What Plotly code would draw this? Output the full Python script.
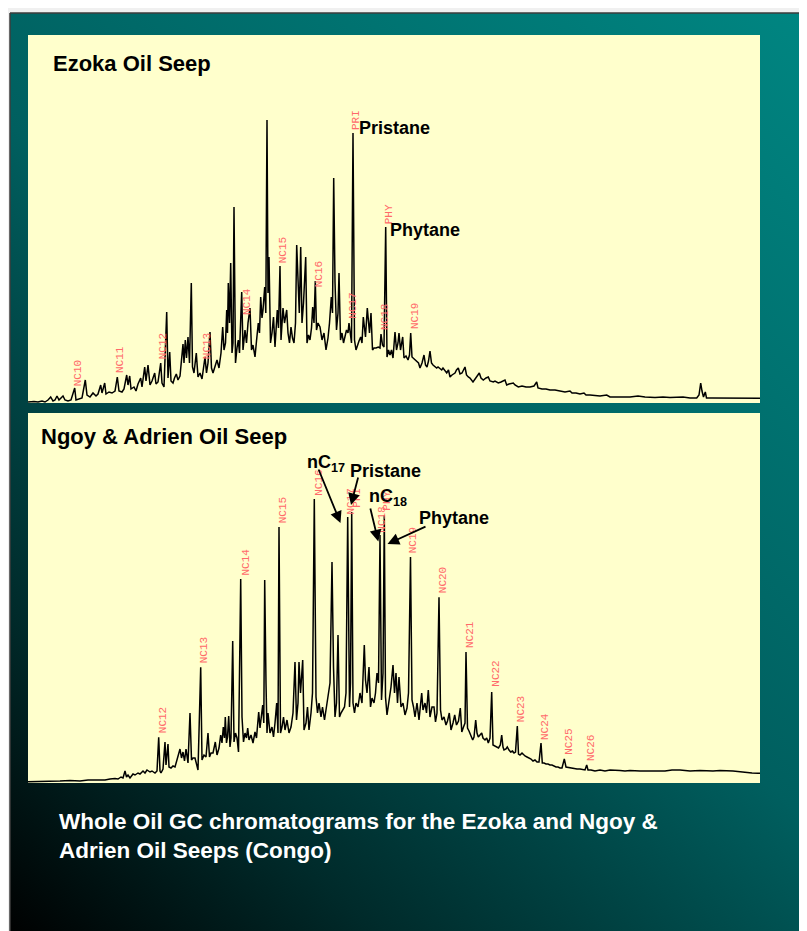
import base64
import plotly.graph_objects as go

W, H = 807, 931
OFF = 8  # page body margin in which the figure is placed

# ---------------- Ezoka Oil Seep chromatogram (retention position, response) ----------------
ezoka_time = [
    28, 34, 38, 42, 45, 48, 50.7, 53, 55, 57,
    59, 61, 63, 65, 68, 71, 74.7, 76, 79, 82,
    85.3, 87, 90, 93, 96, 98, 100.7, 102, 104.7, 106,
    109, 112, 115, 117.3, 119, 122, 124, 126.7, 128, 129.7,
    131, 134, 136, 138, 140.7, 142, 144.7, 146, 148, 150,
    152, 154.7, 156, 158, 160.7, 162, 164, 166.7, 168, 169.7,
    171, 173, 174.5, 176.3, 178, 180, 183, 184, 185.3, 186.5,
    188, 189.5, 191.3, 192.5, 194, 196.3, 198, 200, 202, 205,
    206.5, 208, 210, 211.5, 213, 215, 217, 219, 221, 222.7,
    224, 225.5, 226.7, 227.5, 228.3, 229.5, 230.7, 232, 233, 234,
    235.5, 237, 238.3, 239.5, 241.7, 243, 245, 246.5, 248, 250,
    251.5, 253, 255, 256.5, 258.3, 259.5, 260.7, 262, 263, 264.7,
    265.8, 267, 268, 269, 270.5, 272, 273.5, 275, 277.3, 278.5,
    280, 281, 283, 284.5, 286.7, 288, 289.5, 291, 292.5, 294,
    295.5, 296.7, 298, 299.3, 300.7, 302, 303.5, 305.7, 307, 308.5,
    310, 311.5, 312.7, 314, 315.3, 316.5, 318, 320, 322, 324,
    326, 328, 329.5, 331.3, 332.5, 333.7, 335, 336.5, 338, 339,
    340.5, 342, 343.5, 345, 346.5, 348, 349, 350.5, 351.5, 353,
    354.5, 356, 357.5, 359, 360.7, 362, 363.3, 364.5, 365.5, 367.3,
    368.5, 369.5, 371, 372.5, 374, 376, 378.3, 380, 381, 382.5,
    384, 385.7, 387, 388.5, 390, 391.5, 393, 395, 396.5, 398,
    399, 400.5, 402.7, 404, 406, 408, 409.5, 410.7, 412, 414,
    416.7, 418.5, 420, 422, 424, 425.5, 427, 428.5, 430, 431.5,
    433, 436.7, 438, 441.7, 443, 446.7, 448.5, 450, 452, 455,
    456.5, 458.3, 460, 462, 465, 466.5, 468.3, 470, 473, 475,
    479.3, 481, 483.3, 486, 488.3, 490, 493.3, 495, 498.3, 501,
    505, 506.7, 509, 513.3, 515, 518.3, 522, 526, 530, 534,
    536.7, 538, 542, 546, 550, 555, 560, 565, 570, 572,
    576, 580, 584, 586, 590, 596.7, 600, 606.7, 610, 615,
    620, 630, 638, 645, 655, 663, 670, 683, 690, 696.7,
    699, 700.7, 702, 703.5, 705.3, 706.5, 712, 720, 730, 740,
    750, 760,
]
ezoka_signal = [
    1, 1.5, 1, 2, 1, 3, 6, 2, 3, 7,
    3, 5, 7, 3, 2, 3, 15, 3, 4, 5,
    23, 8, 6, 10, 7, 9, 18, 10, 20, 9,
    11, 10, 12, 26, 12, 11, 14, 28, 18, 27,
    14, 16, 12, 19, 25, 16, 36, 22, 38, 18,
    22, 30, 19, 21, 40, 20, 16, 91, 25, 51,
    22, 20, 25, 29, 23, 27, 59, 40, 63, 45,
    66, 40, 120, 36, 30, 50, 26, 30, 24, 46,
    30, 40, 71, 35, 30, 38, 43, 35, 50, 76,
    53, 60, 93, 70, 120, 80, 140, 50, 60, 196,
    40, 55, 63, 50, 111, 53, 73, 60, 80, 95,
    53, 58, 46, 62, 80, 70, 106, 85, 93, 116,
    90, 283, 110, 146, 60, 70, 86, 56, 93, 75,
    137, 63, 95, 80, 93, 70, 60, 76, 65, 60,
    80, 158, 120, 90, 156, 80, 100, 146, 60, 68,
    63, 75, 96, 80, 122, 73, 80, 76, 63, 70,
    53, 65, 80, 106, 90, 225, 121, 73, 90, 130,
    63, 70, 60, 66, 73, 70, 80, 68, 60, 270,
    63, 53, 58, 62, 66, 60, 86, 70, 66, 95,
    76, 70, 90, 53, 55, 55, 56, 55, 69, 58,
    56, 176, 46, 53, 48, 53, 45, 71, 53, 60,
    70, 53, 66, 45, 47, 43, 48, 70, 46, 44,
    41, 40, 35, 40, 48, 38, 36, 42, 52, 40,
    38, 35, 36, 33, 35, 30, 33, 26, 28, 30,
    33, 35, 29, 30, 36, 28, 26, 25, 21, 24,
    30, 25, 23, 25, 26, 22, 21, 22, 20, 21,
    23, 18, 19, 20, 18, 16, 17, 16, 16, 17,
    21, 15, 14, 14, 13, 13, 12, 11, 12, 10,
    10, 9, 10, 8, 8, 7, 7, 8, 6, 6,
    6, 6, 7, 6, 5.5, 6, 5.5, 6, 5, 5,
    8, 20, 12, 6, 11, 5, 5, 5, 4.7, 5,
    4.7, 4.7,
]
ezoka_labels = ["NC10", "NC11", "NC12", "NC13", "NC14", "NC15", "NC16",
                "NC17", "PRI", "NC18", "PHY", "NC19"]
ezoka_label_time = [78.3, 120, 163.3, 206.7, 247, 283.3, 319.3, 352.7, 356, 385, 389.3, 415]
ezoka_label_level = [30, 43, 57, 56.5, 101, 153, 129, 97, 283, 86, 189, 87]

# ---------------- Ngoy & Adrien Oil Seep chromatogram ----------------
ngoy_time = [
    28, 40, 50, 60, 70, 80, 88, 95, 100, 105,
    110, 115, 118, 121, 123, 125, 126.5, 128, 130, 133,
    135, 138, 140, 143, 145, 147, 150, 152, 155, 157,
    158.7, 160, 161, 163, 165, 166, 168, 169, 171, 173,
    175, 177, 178.5, 180, 181.5, 183, 184.5, 186, 188, 190,
    191.5, 193, 195, 196.5, 198, 200.7, 202, 204, 206, 208,
    209.5, 211, 213, 215.3, 217, 219, 220.7, 222, 223.3, 224.5,
    225.3, 226.5, 227.5, 228.7, 230, 231, 232.7, 234, 235.5, 237,
    238.5, 240.7, 242, 243.5, 245, 246.5, 247.7, 249, 251, 253,
    255, 256.5, 258.7, 260, 261.5, 262.7, 263.8, 264.7, 266, 267,
    268, 270, 272, 273.5, 275, 276.7, 278, 279, 280.5, 282,
    283.5, 285, 287, 289, 291, 293, 295, 296.5, 298, 299,
    300.5, 302.7, 304, 306, 307.5, 309, 311, 312.5, 314.3, 316,
    317.5, 319, 321, 322.5, 324.5, 326.5, 328.5, 330, 332, 333.5,
    335, 336.5, 338, 339.5, 341, 342.5, 344.5, 346, 347.7, 349.5,
    350.5, 351.7, 353, 354.5, 356, 358, 360, 362, 363, 364.3,
    365.5, 367, 369, 370.5, 372, 374, 375.5, 377, 378.5, 380,
    381.5, 383, 384.3, 385.5, 387, 389, 391, 393, 394.5, 396,
    397.5, 399, 401, 403, 405, 407, 408.5, 410.5, 412, 413.5,
    415, 417, 419, 421.7, 423, 425, 426.5, 428.3, 430, 432,
    434, 435.5, 437, 439, 440.5, 442, 444, 446, 447.5, 449.3,
    451, 453, 454.7, 456.5, 458.5, 460.3, 461.8, 463.5, 465, 466,
    467.5, 469, 470.7, 472.7, 474, 475.7, 477, 478.3, 480, 481.7,
    483, 485, 486.7, 488.3, 490, 491.7, 493, 494.5, 496.7, 498.5,
    500.3, 501.7, 503, 504, 506, 507.3, 509, 510.7, 512.5, 514,
    515.5, 517.3, 518.5, 520, 522, 523.5, 525, 527, 529, 531,
    533, 535, 537, 539, 541, 542.3, 544, 546, 548, 550,
    552, 554, 556, 558, 560, 562, 564.3, 566, 568, 571,
    574, 577, 580, 583, 585, 586.7, 588, 591, 595, 600,
    605, 610, 613, 620, 625, 630, 640, 646.7, 655, 665,
    672, 680, 690, 700, 713, 720, 733, 740, 746.7, 752,
    758, 760,
]
ngoy_signal = [
    1.3, 1.5, 1.3, 2, 2.5, 2, 3, 3, 3.5, 3,
    4, 4.5, 4, 6, 5, 12, 6, 8, 5, 9,
    8, 10, 9, 12, 10, 13, 11, 12, 10, 12,
    45.7, 12, 10, 14, 41, 18, 39, 16, 15, 17,
    16, 24, 28, 34, 25, 31, 22, 34, 20, 70,
    23, 25, 25, 20, 13, 115.7, 23, 28, 26, 50,
    26, 30, 30, 41, 28, 35, 48, 40, 56, 45,
    66, 40, 46, 67, 36, 45, 142, 41, 50, 45,
    31, 204, 66, 41, 50, 45, 55, 43, 48, 40,
    51, 45, 71, 55, 70, 78, 60, 203, 100, 50,
    70, 50, 56, 46, 60, 80, 50, 256, 50, 56,
    66, 53, 63, 50, 56, 70, 121, 63, 80, 121,
    90, 123, 53, 60, 76, 53, 70, 90, 284, 86,
    70, 80, 66, 76, 63, 75, 90, 100, 221, 116,
    66, 80, 148, 66, 70, 73, 76, 90, 266, 76,
    100, 271, 80, 70, 80, 76, 90, 80, 100, 138,
    103, 90, 116, 76, 85, 80, 90, 110, 100, 248,
    83, 110, 268, 86, 68, 80, 96, 118, 90, 110,
    80, 106, 76, 80, 68, 75, 90, 226, 83, 76,
    66, 80, 63, 90, 73, 80, 70, 93, 66, 76,
    76, 61, 70, 185.7, 73, 63, 66, 58, 62, 70,
    53, 60, 68, 58, 62, 75, 51, 56, 60, 131,
    55, 52, 48, 43, 46, 63, 50, 46, 48, 50,
    45, 43, 45, 40, 45, 91, 38, 37, 36, 35,
    38, 48, 36, 33, 34, 36, 33, 31, 32, 30,
    31, 57, 29, 28, 30, 28, 27, 26, 25, 24,
    22, 23, 21, 21, 40, 20, 20, 19, 19, 18,
    18, 17, 16, 16, 15, 15, 24, 16, 15.5, 15,
    14.7, 14, 14, 13.5, 13, 18, 13, 13, 12, 13,
    12, 13, 13, 12.5, 12, 12.5, 12, 12, 12.5, 12,
    13, 13, 12, 12.5, 12, 12.5, 12, 11, 10, 10,
    9.7, 9.7,
]
ngoy_labels = ["NC12", "NC13", "NC14", "NC15", "NC16", "NC17", "PRI", "NC18", "PHY",
               "NC19", "NC20", "NC21", "NC22", "NC23", "NC24", "NC25", "NC26"]
ngoy_label_time = [162.7, 204.3, 245, 283.3, 318.3, 350, 356.7, 381.7, 386.7,
                   413.3, 442.7, 470, 495.7, 520.7, 545, 568.3, 591]
ngoy_label_level = [62.5, 133, 220.5, 273, 300.5, 281.5, 285, 263, 282,
                    243, 202.5, 148, 109, 73.5, 56, 41.5, 35]

panel_titles = ["Ezoka Oil Seep", "Ngoy & Adrien Oil Seep"]
caption = "Whole Oil GC chromatograms for the Ezoka and Ngoy &<br>Adrien Oil Seeps (Congo)"

# ---------------- helpers (page pixel -> paper) ----------------
def px(x):
    return (x - OFF) / W

def py(y):
    return 1 - (y - OFF) / H

SANS = "Liberation Sans, Arial, Helvetica, sans-serif"
MONO = "Liberation Mono, Courier New, monospace"
LABEL_RED = "#ff6a6a"
PANEL = "#ffffcc"

fig = go.Figure()
fig.add_trace(go.Scatter(x=ezoka_time, y=ezoka_signal, mode="lines",
                         line=dict(color="#000000", width=1.5),
                         xaxis="x", yaxis="y", hoverinfo="skip", showlegend=False))
fig.add_trace(go.Scatter(x=ngoy_time, y=ngoy_signal, mode="lines",
                         line=dict(color="#000000", width=1.5),
                         xaxis="x2", yaxis="y2", hoverinfo="skip", showlegend=False))

ax_common = dict(showgrid=False, zeroline=False, showticklabels=False, ticks="",
                 showline=False, fixedrange=True)
fig.update_layout(
    width=W, height=H,
    margin=dict(l=0, r=0, t=0, b=0),
    paper_bgcolor="#f0f0f0",
    plot_bgcolor="rgba(0,0,0,0)",
    xaxis=dict(domain=[px(28), px(760)], range=[28, 760], anchor="y", **ax_common),
    yaxis=dict(domain=[py(403), py(35)], range=[0, 368], anchor="x", **ax_common),
    xaxis2=dict(domain=[px(28), px(760)], range=[28, 760], anchor="y2", **ax_common),
    yaxis2=dict(domain=[py(783), py(413)], range=[0, 370], anchor="x2", **ax_common),
)

# slide background gradient
SW, SH = W - 2, H - 5
svg = (
    f'<svg xmlns="http://www.w3.org/2000/svg" width="{SW}" height="{SH}" viewBox="0 0 {SW} {SH}" '
    'preserveAspectRatio="none"><defs><linearGradient id="g" gradientUnits="userSpaceOnUse" '
    f'x1="0" y1="{SH}" x2="{SW}" y2="0">'
    '<stop offset="0" stop-color="#000000"/>'
    '<stop offset="0.2" stop-color="#002a2a"/>'
    '<stop offset="0.5" stop-color="#005f5f"/>'
    '<stop offset="1" stop-color="#008682"/>'
    f'</linearGradient></defs><rect width="{SW}" height="{SH}" fill="url(#g)"/></svg>'
)
src = "data:image/svg+xml;base64," + base64.b64encode(svg.encode()).decode()
fig.add_layout_image(dict(source=src, xref="paper", yref="paper", x=px(10), y=py(13),
                          sizex=SW / W, sizey=SH / H, xanchor="left", yanchor="top",
                          sizing="stretch", layer="below"))

# slide borders
fig.add_shape(type="line", xref="paper", yref="paper", x0=px(10), x1=1, y0=py(13), y1=py(13),
              line=dict(color="#3c3c3c", width=1.5), layer="below")
fig.add_shape(type="line", xref="paper", yref="paper", x0=px(10), x1=px(10), y0=0, y1=py(13),
              line=dict(color="#3c3c3c", width=1.5), layer="below")

# pale yellow chart panels
for (y0, y1) in [(35, 403), (413, 783)]:
    fig.add_shape(type="rect", xref="paper", yref="paper", x0=px(28), x1=px(760),
                  y0=py(y1), y1=py(y0), fillcolor=PANEL, line=dict(width=0), layer="below")

# red peak labels
for name, t, lev in zip(ezoka_labels, ezoka_label_time, ezoka_label_level):
    fig.add_annotation(x=t, y=lev, xref="x", yref="y", text=name, showarrow=False,
                       textangle=-90, xanchor="center", yanchor="middle",
                       font=dict(family=MONO, size=11, color=LABEL_RED))
for name, t, lev in zip(ngoy_labels, ngoy_label_time, ngoy_label_level):
    fig.add_annotation(x=t, y=lev, xref="x2", yref="y2", text=name, showarrow=False,
                       textangle=-90, xanchor="center", yanchor="middle",
                       font=dict(family=MONO, size=11, color=LABEL_RED))

def black_text(text, x, y, size):
    fig.add_annotation(x=px(x), y=py(y), xref="paper", yref="paper", text="<b>" + text + "</b>",
                       showarrow=False, xanchor="left", yanchor="middle",
                       font=dict(family=SANS, size=size, color="#000000"))

black_text(panel_titles[0], 51, 63, 22)
black_text("Pristane", 357, 128, 18)
black_text("Phytane", 388, 230, 18)
black_text(panel_titles[1], 39, 437, 22)
black_text("nC<sub>17</sub>", 305, 463, 18)
black_text("Pristane", 348, 471, 18)
black_text("nC<sub>18</sub>", 367, 497, 18)
black_text("Phytane", 417, 518, 18)

def arrow(x0, y0, x1, y1):
    fig.add_annotation(x=px(x1), y=py(y1), xref="paper", yref="paper", text="",
                       showarrow=True, ax=x0 - x1, ay=y0 - y1, axref="pixel", ayref="pixel",
                       arrowhead=2, arrowsize=1.3, arrowwidth=1.8, arrowcolor="#000000",
                       standoff=0, startstandoff=0)

arrow(318, 468, 340.5, 523)
arrow(358.5, 476, 351, 505)
arrow(370, 507, 378.3, 541.5)
arrow(427, 526, 387.5, 544)

fig.add_annotation(x=px(57), y=py(836), xref="paper", yref="paper",
                   text="<b>" + caption + "</b>", showarrow=False, xanchor="left",
                   yanchor="middle", align="left",
                   font=dict(family=SANS, size=22.5, color="#ffffff"))

fig.write_html("out.html")
